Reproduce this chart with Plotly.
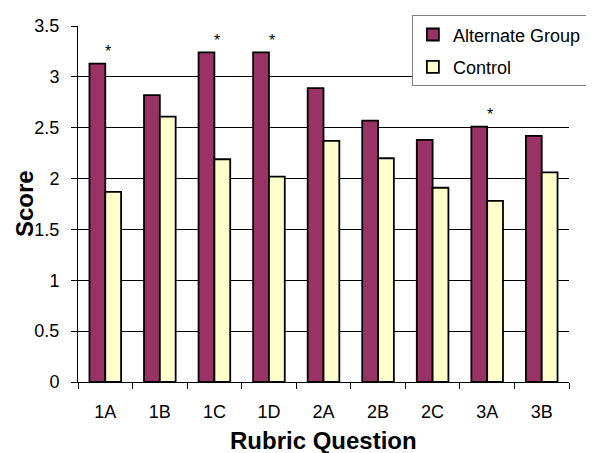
import plotly.graph_objects as go

categories = ["1A", "1B", "1C", "1D", "2A", "2B", "2C", "3A", "3B"]
alternate = [3.13, 2.82, 3.24, 3.24, 2.89, 2.57, 2.38, 2.51, 2.42]
control = [1.87, 2.61, 2.19, 2.02, 2.37, 2.20, 1.91, 1.78, 2.06]
significant = ["1A", "1C", "1D", "3A"]

FONT = "Liberation Sans, Arial, sans-serif"

fig = go.Figure()
fig.add_trace(go.Bar(x=categories, y=alternate, name="Alternate Group", legendgroup="a",
                     marker=dict(color="#993366", line=dict(color="black", width=1.8))))
fig.add_trace(go.Bar(x=categories, y=control, name="Control", legendgroup="b",
                     marker=dict(color="#FFFFCC", line=dict(color="black", width=1.8))))

for c in significant:
    v = alternate[categories.index(c)]
    fig.add_annotation(x=c, y=v, text="*", showarrow=False, xshift=3, yshift=12,
                       font=dict(size=16, color="black", family=FONT))

# axis titles as annotations for precise placement
fig.add_annotation(x=0.5, y=0, xref="paper", yref="paper", text="<b>Rubric Question</b>",
                   showarrow=False, xanchor="center", yanchor="middle", yshift=-58,
                   font=dict(size=24, family=FONT, color="black"))
fig.add_annotation(x=0, y=0.5, xref="paper", yref="paper", text="<b>Score</b>",
                   showarrow=False, xanchor="center", yanchor="middle", xshift=-54,
                   textangle=-90, font=dict(size=24, family=FONT, color="black"))

fig.update_layout(
    width=586, height=445,
    margin=dict(l=70, r=7, t=12, b=71),
    paper_bgcolor="white", plot_bgcolor="white",
    barmode="group", bargap=0.42, bargroupgap=0,
    font=dict(family=FONT, size=18, color="black"),
    showlegend=True,
    legend=dict(x=0.68, y=1.03, xanchor="left", yanchor="top",
                bgcolor="white", bordercolor="#808080", borderwidth=1,
                font=dict(size=18, family=FONT), traceorder="grouped", tracegroupgap=6),
    xaxis=dict(showline=True, linecolor="black", linewidth=1,
               ticks="outside", ticklen=6, tickcolor="black", tickson="boundaries",
               tickfont=dict(size=18, family=FONT), ticklabelstandoff=13,
               showgrid=False),
    yaxis=dict(range=[0, 3.5], dtick=0.5, showline=True, linecolor="black", linewidth=1,
               ticks="outside", ticklen=6, tickcolor="black",
               tickfont=dict(size=18, family=FONT), ticklabelstandoff=8,
               showgrid=True, gridcolor="black", gridwidth=1, zeroline=False),
)

fig.write_html("out.html")
